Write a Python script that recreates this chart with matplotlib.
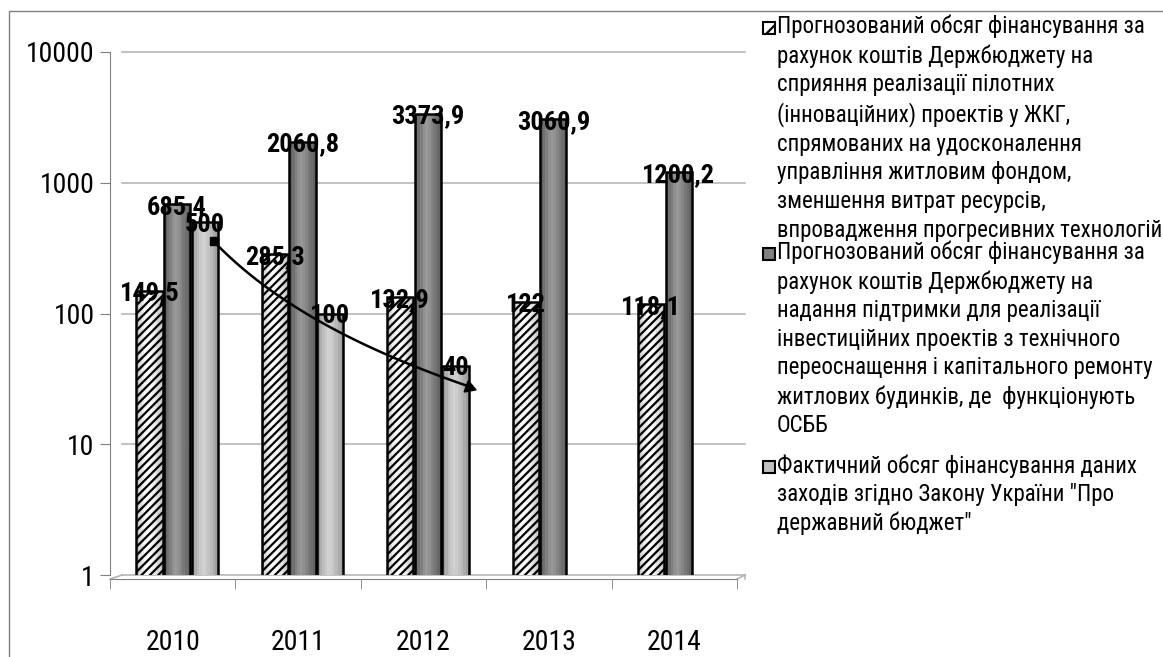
import numpy as np
import matplotlib
matplotlib.use('Agg')
import matplotlib.pyplot as plt
from matplotlib import transforms
from matplotlib.patches import Rectangle

years = ['2010', '2011', '2012', '2013', '2014']
pilot_plan = [149.5, 285.3, 132.9, 122, 118.1]
osbb_plan = [685.4, 2060.8, 3373.9, 3060.9, 1200.2]
actual = [500, 100, 40]
y_ticks = [1, 10, 100, 1000, 10000]

legend_labels = [
    'Прогнозований обсяг фінансування за\nрахунок коштів Держбюджету на\n'
    'сприяння реалізації пілотних\n(інноваційних) проектів у ЖКГ,\n'
    'спрямованих на удосконалення\nуправління житловим фондом,\n'
    'зменшення витрат ресурсів,\nвпровадження прогресивних технологій',
    'Прогнозований обсяг фінансування за\nрахунок коштів Держбюджету на\n'
    'надання підтримки для реалізації\nінвестиційних проектів з технічного\n'
    'переоснащення і капітального ремонту\nжитлових будинків, де  функціонують\n'
    'ОСББ',
    'Фактичний обсяг фінансування даних\nзаходів згідно Закону України "Про\n'
    'державний бюджет"',
]

FONT = ['Roboto Condensed', 'PT Sans Narrow', 'Liberation Sans Narrow',
        'Liberation Sans', 'DejaVu Sans']
plt.rcParams['font.family'] = FONT
plt.rcParams['hatch.linewidth'] = 1.6

W, H = 1163, 657
BAR_W = 0.21
OFFSETS = [-0.185, 0.035, 0.255]
HATCH_SHADES = [0.78, 0.86, 0.93, 0.98, 1.0, 0.98, 0.94, 0.89, 0.84, 0.80]
DARK_SHADES = [0.38, 0.44, 0.50, 0.56, 0.60, 0.57, 0.52, 0.47, 0.43, 0.39]
LIGHT_SHADES = [0.60, 0.68, 0.74, 0.79, 0.82, 0.80, 0.76, 0.72, 0.67, 0.62]


def fmt(v):
    if float(v).is_integer():
        return str(int(v))
    return f'{v:.1f}'.replace('.', ',')


def cylinder(ax, x, h, shades, hatch=None):
    n = len(shades)
    for k, s in enumerate(shades):
        ax.bar(x - BAR_W / 2 + k * BAR_W / n, h, width=BAR_W / n * 1.02,
               align='edge', color=str(s), lw=0, zorder=3)
    ax.bar(x, h, width=BAR_W, fill=False, edgecolor='black', lw=1.8,
           hatch=hatch, zorder=4)


def label(ax, x, h):
    ax.annotate(fmt(h), (x, h), xytext=(0, -2), textcoords='offset points',
                ha='center', va='center', fontsize=19, fontweight='bold',
                zorder=6)


fig = plt.figure(figsize=(W / 100, H / 100), dpi=100)
ax = fig.add_axes([110 / W, (H - 575) / H, 627 / W, (575 - 52) / H])
ax.set_yscale('log')
ax.set_ylim(1, 10000)
ax.set_xlim(-0.5, 4.5)

# outer frame
fig.add_artist(Rectangle((9 / W, -0.1), 1.2, (H - 11) / H + 0.1,
                         transform=fig.transFigure, fill=False,
                         edgecolor='#808080', lw=1))

# back wall grid lines (slight 3d offset)
grid_c = '#b0b0b0'
dx = 12 / 125
for v in y_ticks:
    ax.plot([-0.5 + dx, 4.5 + 8 / 125], [v, v], color=grid_c, lw=1.1,
            zorder=1, clip_on=False)
ax.plot([4.5, 4.5 + 8 / 125], [0.93, 1], color=grid_c, lw=1.1,
        clip_on=False)
ax.plot([-0.5, -0.5 + dx], [0.93, 1], color=grid_c, lw=1.1,
        clip_on=False)
ax.plot([4.5 + 8 / 125] * 2, [1, 0.93], color=grid_c, lw=1.1,
        clip_on=False)

x = np.arange(len(years))
for i, v in enumerate(pilot_plan):
    cylinder(ax, x[i] + OFFSETS[0], v, HATCH_SHADES, hatch='////')
for i, v in enumerate(osbb_plan):
    cylinder(ax, x[i] + OFFSETS[1], v, DARK_SHADES)
for i, v in enumerate(actual):
    cylinder(ax, x[i] + OFFSETS[2], v, LIGHT_SHADES)

for i, v in enumerate(pilot_plan):
    label(ax, x[i] + OFFSETS[0], v)
for i, v in enumerate(osbb_plan):
    label(ax, x[i] + OFFSETS[1], v)
for i, v in enumerate(actual):
    label(ax, x[i] + OFFSETS[2], v)

# power trend of the actual series, drawn on the front plane
t = np.arange(1, len(actual) + 1)
b, a = np.polyfit(np.log10(t), np.log10(actual), 1)
ts = np.linspace(1, 3.04, 60)
trend = 10 ** (a + b * np.log10(ts))
front = transforms.offset_copy(ax.transData, fig=fig, x=9, y=-19,
                               units='dots')
ax.plot(ts - 1 + OFFSETS[2], trend, color='black', lw=1.8, transform=front,
        zorder=5, clip_on=False)
ax.plot(ts[0] - 1 + OFFSETS[2], trend[0], marker='s', ms=6, color='black',
        transform=front, zorder=5)
ax.plot(ts[-1] - 1 + OFFSETS[2], trend[-1], marker=(3, 0, -110), ms=10,
        color='black', transform=front, zorder=5, clip_on=False)

for side in ['top', 'right']:
    ax.spines[side].set_visible(False)
ax.spines['left'].set_color('#808080')
ax.spines['bottom'].set_color('#808080')
ax.spines['bottom'].set_position(('outward', 3))
ax.set_yticks(y_ticks)
ax.set_yticklabels([str(v) for v in y_ticks], fontsize=20)
ax.yaxis.set_minor_locator(matplotlib.ticker.NullLocator())
ax.tick_params(axis='y', length=7, color='#808080', pad=4)
ax.set_xticks(np.arange(-0.5, 5, 1), minor=True)
ax.set_xticks(x)
ax.set_xticklabels(years, fontsize=20)
ax.tick_params(axis='x', which='major', length=0, pad=36)
ax.tick_params(axis='x', which='minor', length=7, color='#808080')

# legend
fills = [None, '#808080', '#c0c0c0']
tops = [28, 254, 467]
for lab, fc, yc in zip(legend_labels, fills, tops):
    if fc is None:
        sq = Rectangle((763 / W, (H - yc - 6) / H), 12 / W, 12 / H,
                       transform=fig.transFigure, facecolor='white',
                       edgecolor='black', lw=1.5, hatch='/')
    else:
        sq = Rectangle((763 / W, (H - yc - 6) / H), 12 / W, 12 / H,
                       transform=fig.transFigure, facecolor=fc,
                       edgecolor='black', lw=1.5)
    fig.add_artist(sq)
    fig.text(777 / W, (H - yc + 13) / H, lab, ha='left', va='top',
             fontsize=16.5, linespacing=1.31)

fig.savefig('out.png', dpi=100)
